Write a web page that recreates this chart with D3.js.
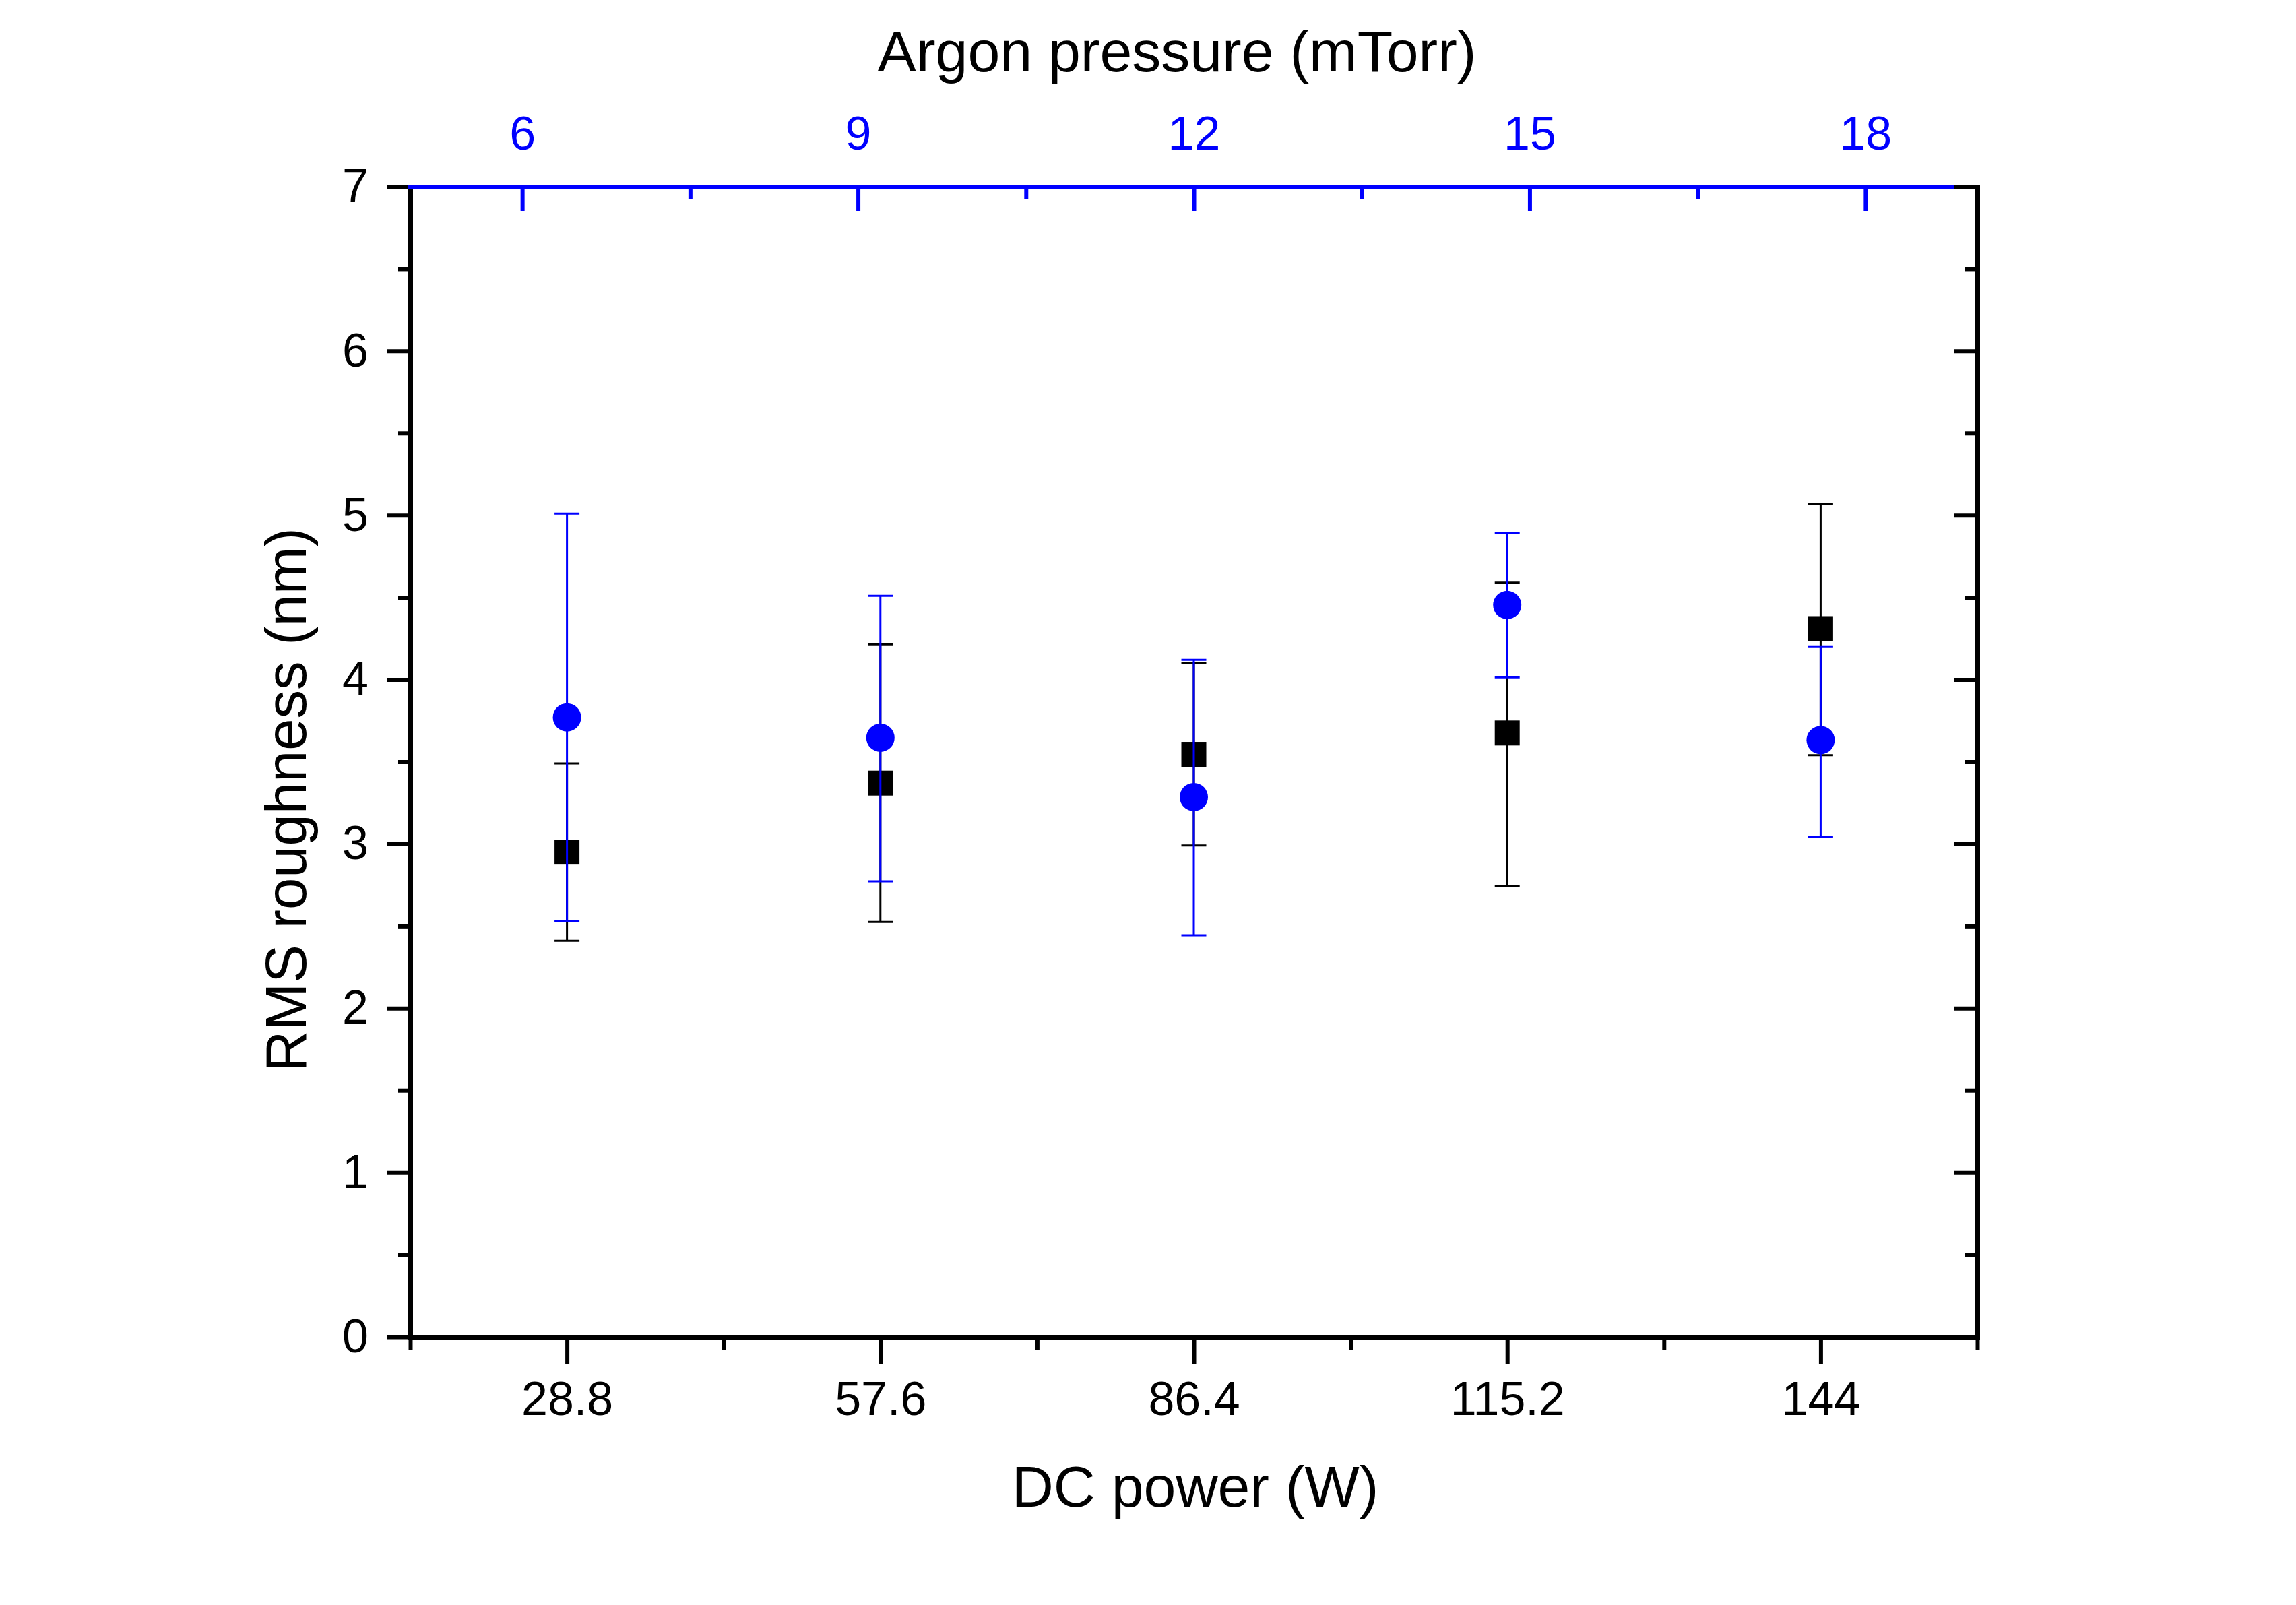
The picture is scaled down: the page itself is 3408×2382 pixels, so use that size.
<!DOCTYPE html>
<html>
<head>
<meta charset="utf-8">
<script src="https://cdn.jsdelivr.net/npm/d3@7"></script>
<style>
  html, body { margin: 0; padding: 0; background: #fff; }
  svg { display: block; }
  text { font-family: 'Liberation Sans', Arial, sans-serif; }
</style>
</head>
<body>
<script>
// ---- data ----
const power = [28.8, 57.6, 86.4, 115.2, 144];
const powerRms = [2.95, 3.37, 3.545, 3.675, 4.31];
const powerErrLow = [2.41, 2.525, 2.99, 2.745, 3.54];
const powerErrHigh = [3.49, 4.215, 4.10, 4.59, 5.07];

const pressure = [6.4, 9.2, 12.0, 14.8, 17.6];
const pressureRms = [3.77, 3.646, 3.285, 4.454, 3.632];
const pressureErrLow = [2.53, 2.772, 2.444, 4.014, 3.043];
const pressureErrHigh = [5.01, 4.51, 4.12, 4.893, 4.202];

const yMajor = [0, 1, 2, 3, 4, 5, 6, 7];
const yMinor = [0.5, 1.5, 2.5, 3.5, 4.5, 5.5, 6.5];
const powerMajor = [28.8, 57.6, 86.4, 115.2, 144];
const powerMinor = [14.4, 43.2, 72, 100.8, 129.6, 158.4];
const pressureMajor = [6, 9, 12, 15, 18];
const pressureMinor = [7.5, 10.5, 13.5, 16.5];

const xTitle = "DC power (W)";
const x2Title = "Argon pressure (mTorr)";
const yTitle = "RMS roughness (nm)";

// ---- layout ----
const W = 3408, H = 2382;
const L = 609, R = 2935, T = 277, B = 1984;
const BLUE = "#0000ff";

const svg = d3.select("body").append("svg").attr("width", W).attr("height", H);
svg.append("rect").attr("width", W).attr("height", H).attr("fill", "#fff");

const x = d3.scaleLinear().domain([14.4, 158.4]).range([L, R]);
const x2 = d3.scaleLinear().domain([5, 19]).range([L, R]);
const y = d3.scaleLinear().domain([0, 7]).range([B, T]);

function styleAxis(g, color, fontSize) {
  g.selectAll(".domain").attr("stroke", color).attr("stroke-width", 7).attr("stroke-linecap", "square");
  g.selectAll(".tick line").attr("stroke", color).attr("stroke-width", 6);
  g.selectAll(".tick text").attr("fill", color).style("font-size", fontSize + "px")
    .style("font-family", "'Liberation Sans', Arial, sans-serif");
}

// left axis
const gLmin = svg.append("g").attr("transform", `translate(${L},0)`)
  .call(d3.axisLeft(y).tickValues(yMinor).tickSize(18).tickFormat(""));
styleAxis(gLmin, "#000", 70); gLmin.select(".domain").remove();
const gL = svg.append("g").attr("transform", `translate(${L},0)`)
  .call(d3.axisLeft(y).tickValues(yMajor).tickSize(35).tickSizeOuter(0).tickPadding(27).tickFormat(d3.format("d")));
styleAxis(gL, "#000", 70);

// bottom axis
const gBmin = svg.append("g").attr("transform", `translate(0,${B})`)
  .call(d3.axisBottom(x).tickValues(powerMinor).tickSize(20).tickFormat(""));
styleAxis(gBmin, "#000", 70); gBmin.select(".domain").remove();
const gB = svg.append("g").attr("transform", `translate(0,${B})`)
  .call(d3.axisBottom(x).tickValues(powerMajor).tickSize(40).tickSizeOuter(0).tickPadding(26).tickFormat(d => String(d)));
styleAxis(gB, "#000", 70);

// top axis (blue)
const gTmin = svg.append("g").attr("transform", `translate(0,${T})`)
  .call(d3.axisTop(x2).tickValues(pressureMinor).tickSize(-18).tickFormat(""));
styleAxis(gTmin, BLUE, 70); gTmin.select(".domain").remove();
const gT = svg.append("g").attr("transform", `translate(0,${T})`)
  .call(d3.axisTop(x2).tickValues(pressureMajor).tickSize(-36).tickSizeOuter(0).tickPadding(55).tickFormat(d3.format("d")));
styleAxis(gT, BLUE, 70);

// right axis
const gRmin = svg.append("g").attr("transform", `translate(${R},0)`)
  .call(d3.axisRight(y).tickValues(yMinor).tickSize(-18).tickFormat(""));
styleAxis(gRmin, "#000", 70); gRmin.select(".domain").remove();
const gR = svg.append("g").attr("transform", `translate(${R},0)`)
  .call(d3.axisRight(y).tickValues(yMajor).tickSize(-35).tickSizeOuter(0).tickFormat(""));
styleAxis(gR, "#000", 70);

// titles
svg.append("text").attr("x", 1747).attr("y", 106).attr("text-anchor", "middle")
  .style("font-size", "86px").attr("fill", "#000").text(x2Title);
svg.append("text").attr("x", 1774).attr("y", 2236).attr("text-anchor", "middle")
  .style("font-size", "86px").attr("fill", "#000").text(xTitle);
svg.append("text").attr("transform", "translate(454,1187) rotate(-90)").attr("text-anchor", "middle")
  .style("font-size", "85px").attr("fill", "#000").text(yTitle);

// series helper
function drawSeries(xs, xScale, vals, lo, hi, color, shape) {
  const data = xs.map((d, i) => ({ x: d, v: vals[i], lo: lo[i], hi: hi[i] }));
  const g = svg.append("g");
  const capW = 37;
  g.selectAll("line.v").data(data).enter().append("line")
    .attr("x1", d => xScale(d.x)).attr("x2", d => xScale(d.x))
    .attr("y1", d => y(d.lo)).attr("y2", d => y(d.hi))
    .attr("stroke", color).attr("stroke-width", 3);
  g.selectAll("line.hi").data(data).enter().append("line")
    .attr("x1", d => xScale(d.x) - capW / 2).attr("x2", d => xScale(d.x) + capW / 2)
    .attr("y1", d => y(d.hi)).attr("y2", d => y(d.hi))
    .attr("stroke", color).attr("stroke-width", 3);
  g.selectAll("line.lo").data(data).enter().append("line")
    .attr("x1", d => xScale(d.x) - capW / 2).attr("x2", d => xScale(d.x) + capW / 2)
    .attr("y1", d => y(d.lo)).attr("y2", d => y(d.lo))
    .attr("stroke", color).attr("stroke-width", 3);
  if (shape === "square") {
    const s = 37;
    g.selectAll("rect.m").data(data).enter().append("rect")
      .attr("x", d => xScale(d.x) - s / 2).attr("y", d => y(d.v) - s / 2)
      .attr("width", s).attr("height", s).attr("fill", color);
  } else {
    g.selectAll("circle.m").data(data).enter().append("circle")
      .attr("cx", d => xScale(d.x)).attr("cy", d => y(d.v)).attr("r", 21).attr("fill", color);
  }
}

drawSeries(power, x, powerRms, powerErrLow, powerErrHigh, "#000", "square");
drawSeries(pressure, x2, pressureRms, pressureErrLow, pressureErrHigh, BLUE, "circle");
</script>
</body>
</html>
